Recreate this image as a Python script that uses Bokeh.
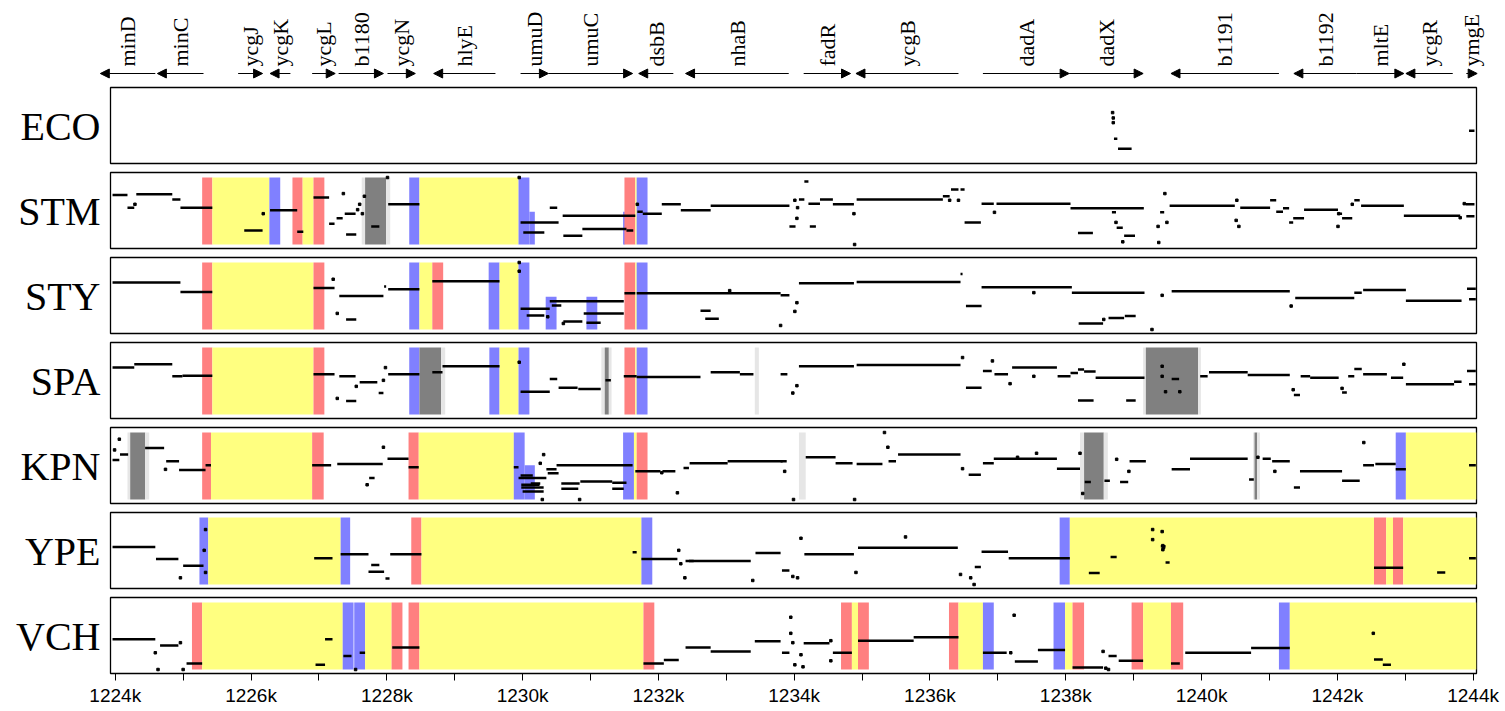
import math
from bokeh.plotting import figure
from bokeh.layouts import column
from bokeh.models import (Range1d, FixedTicker, LinearAxis, Arrow, NormalHead, LabelSet,
                          ColumnDataSource, PrintfTickFormatter)
from bokeh.core.properties import value
from bokeh.embed import file_html
from bokeh.resources import INLINE

# ---------------- data ----------------
gene_names = ["minD", "minC", "ycgJ", "ycgK", "ycgL", "b1180", "ycgN", "hlyE", "umuD", "umuC",
              "dsbB", "nhaB", "fadR", "ycgB", "dadA", "dadX", "b1191", "b1192", "mltE", "ycgR", "ymgE"]
gene_start = [1223.78, 1224.62, 1225.81, 1226.28, 1226.90, 1227.29, 1228.01, 1228.69, 1229.97, 1230.38,
              1231.71, 1232.40, 1234.14, 1234.91, 1236.78, 1238.05, 1239.55, 1241.36, 1242.28, 1243.01, 1243.90]
gene_end = [1224.59, 1225.30, 1226.17, 1226.58, 1227.24, 1227.95, 1228.42, 1229.60, 1230.38, 1231.62,
            1232.22, 1233.92, 1234.83, 1236.42, 1238.05, 1239.14, 1241.14, 1242.28, 1242.98, 1243.70, 1244.06]
gene_strand = ["-", "-", "+", "-", "+", "+", "+", "-", "+", "+",
               "-", "-", "+", "-", "+", "+", "-", "-", "+", "-", "+"]

species = ["ECO", "STM", "STY", "SPA", "KPN", "YPE", "VCH"]
x_ticks = [1224, 1226, 1228, 1230, 1232, 1234, 1236, 1238, 1240, 1242, 1244]
x_minor = [1225, 1227, 1229, 1231, 1233, 1235, 1237, 1239, 1241, 1243]

# bands: (start kb, end kb, kind[, low %, high %])
eco_bands = []
eco_segs = [(1238.71, 1238.76, 31), (1238.77, 1238.97, 16), (1243.94, 1244.02, 43)]
eco_dots = [(1238.69, 70), (1238.70, 62), (1238.70, 55)]

stm_bands = [(1225.28, 1225.43, "R"), (1225.43, 1226.27, "Y"), (1226.27, 1226.43, "B"),
             (1226.61, 1226.76, "R"), (1226.76, 1226.92, "Y"), (1226.92, 1227.08, "R"),
             (1227.63, 1227.68, "L"), (1227.68, 1227.99, "G"), (1227.99, 1228.05, "L"),
             (1228.33, 1228.48, "B"), (1228.48, 1229.94, "Y"), (1229.94, 1230.10, "B"),
             (1230.10, 1230.18, "B", 0, 49), (1231.48, 1231.51, "B", 0, 49),
             (1231.50, 1231.66, "R"), (1231.66, 1231.68, "Y"), (1231.68, 1231.84, "B")]
stm_segs = [(1223.96, 1224.18, 74), (1224.18, 1224.28, 55), (1224.31, 1224.84, 75), (1224.84, 1224.96, 67),
            (1224.96, 1225.43, 55), (1225.90, 1226.17, 21), (1226.28, 1226.68, 51), (1226.68, 1226.77, 19),
            (1226.92, 1227.15, 70), (1227.15, 1227.23, 31), (1227.26, 1227.35, 39), (1227.38, 1227.54, 46),
            (1227.40, 1227.55, 15), (1227.77, 1227.89, 27), (1228.02, 1228.48, 60), (1229.97, 1230.53, 33),
            (1230.01, 1230.32, 18), (1230.40, 1230.51, 55), (1230.59, 1231.66, 43), (1230.60, 1230.88, 13),
            (1230.88, 1231.53, 23), (1231.53, 1231.63, 21), (1231.69, 1231.77, 49), (1231.77, 1232.05, 46),
            (1232.05, 1232.33, 60), (1232.33, 1232.77, 51), (1232.77, 1233.93, 58), (1233.93, 1234.02, 27),
            (1234.07, 1234.15, 67), (1234.15, 1234.21, 94), (1234.21, 1234.38, 61), (1234.23, 1234.32, 27),
            (1234.38, 1234.57, 67), (1234.57, 1234.88, 60), (1234.92, 1236.19, 67), (1236.19, 1236.29, 72),
            (1236.31, 1236.42, 82), (1236.45, 1236.51, 82), (1236.51, 1236.75, 33), (1236.76, 1236.94, 61),
            (1236.98, 1238.07, 61), (1238.07, 1239.15, 54), (1238.18, 1238.40, 17), (1238.68, 1238.74, 48),
            (1238.75, 1238.84, 25), (1238.86, 1239.02, 13), (1239.39, 1239.45, 48), (1239.53, 1240.49, 58),
            (1240.57, 1241.01, 55), (1241.01, 1241.10, 66), (1241.10, 1241.20, 49), (1241.20, 1241.29, 54),
            (1241.29, 1241.35, 33), (1241.35, 1241.51, 39), (1241.51, 1242.01, 52), (1242.01, 1242.07, 46),
            (1242.07, 1242.22, 39), (1242.25, 1242.33, 66), (1242.35, 1242.98, 58), (1242.98, 1243.81, 43),
            (1243.89, 1244.02, 60), (1243.90, 1244.02, 42)]
stm_dots = [(1224.29, 60), (1226.18, 46), (1227.36, 76), (1227.60, 60), (1227.67, 72), (1227.64, 46),
            (1227.57, 52), (1228.01, 100), (1229.95, 100), (1231.69, 60), (1234.04, 39), (1234.05, 55),
            (1234.01, 66), (1234.88, 46), (1234.89, 0), (1236.29, 66), (1236.42, 66), (1236.95, 48),
            (1238.74, 33), (1238.84, 4), (1239.37, 3), (1239.46, 76), (1239.36, 27), (1239.49, 33),
            (1240.51, 36), (1240.55, 27), (1240.52, 66), (1242.02, 46), (1242.01, 27), (1242.22, 60),
            (1243.81, 40), (1243.87, 61)]

sty_bands = [(1225.28, 1225.43, "R"), (1225.43, 1226.92, "Y"), (1226.92, 1227.08, "R"),
             (1228.33, 1228.48, "B"), (1228.48, 1228.67, "Y"), (1228.67, 1228.83, "R"),
             (1229.50, 1229.66, "B"), (1229.66, 1229.94, "Y"), (1229.94, 1230.10, "B"),
             (1230.34, 1230.50, "B", 0, 49), (1230.94, 1231.10, "B", 0, 49),
             (1231.50, 1231.66, "R"), (1231.66, 1231.68, "Y"), (1231.68, 1231.84, "B")]
sty_segs = [(1223.96, 1224.96, 70), (1224.96, 1225.43, 56), (1226.92, 1227.23, 62), (1227.30, 1227.95, 50),
            (1227.40, 1227.55, 15), (1227.96, 1227.99, 64), (1228.02, 1228.48, 60), (1228.67, 1229.66, 72),
            (1229.97, 1230.40, 31), (1230.06, 1230.32, 21), (1230.40, 1231.49, 42), (1230.43, 1230.57, 36),
            (1230.60, 1230.88, 12), (1230.90, 1231.49, 24), (1230.94, 1231.15, 10), (1231.50, 1231.66, 54),
            (1231.68, 1233.80, 54), (1232.62, 1232.77, 28), (1232.69, 1232.89, 16), (1233.80, 1233.93, 51),
            (1234.07, 1234.88, 69), (1234.92, 1236.45, 71), (1236.53, 1236.76, 35), (1236.45, 1236.48, 83),
            (1236.76, 1238.09, 63), (1238.09, 1239.16, 55), (1238.19, 1238.55, 9), (1238.63, 1238.86, 17),
            (1238.87, 1239.03, 20), (1239.56, 1241.30, 57), (1241.38, 1242.25, 47), (1242.25, 1242.36, 55),
            (1242.38, 1243.01, 59), (1243.01, 1243.83, 43), (1243.91, 1244.04, 61), (1243.94, 1244.04, 45)]
sty_dots = [(1227.21, 75), (1227.27, 24), (1229.95, 100), (1229.95, 87), (1230.37, 19), (1230.60, 9),
            (1234.01, 27), (1234.04, 40), (1233.80, 6), (1237.53, 55), (1239.42, 51), (1241.32, 35),
            (1239.27, 0), (1238.56, 15), (1233.05, 58)]

spa_bands = [(1225.28, 1225.43, "R"), (1225.43, 1226.92, "Y"), (1226.92, 1227.08, "R"),
             (1228.33, 1228.48, "B"), (1228.48, 1228.80, "G"), (1228.80, 1228.86, "L"),
             (1229.51, 1229.66, "B"), (1229.66, 1229.94, "Y"), (1229.94, 1230.10, "B"),
             (1231.16, 1231.21, "L"), (1231.21, 1231.27, "G"), (1231.27, 1231.31, "L"),
             (1231.50, 1231.66, "R"), (1231.66, 1231.68, "Y"), (1231.68, 1231.84, "B"),
             (1233.42, 1233.48, "L"),
             (1239.14, 1239.18, "L"), (1239.18, 1239.95, "G"), (1239.95, 1239.99, "L")]
spa_segs = [(1223.96, 1224.28, 70), (1224.28, 1224.84, 75), (1224.84, 1224.99, 57), (1224.99, 1225.43, 58),
            (1226.92, 1227.23, 60), (1227.30, 1227.54, 57), (1227.40, 1227.55, 20), (1227.60, 1227.86, 48),
            (1227.88, 1227.95, 32), (1228.02, 1228.48, 60), (1228.67, 1228.82, 63), (1228.82, 1229.66, 72),
            (1229.97, 1230.40, 34), (1230.40, 1230.51, 53), (1230.53, 1230.81, 40), (1230.82, 1231.15, 38),
            (1231.22, 1231.30, 51), (1231.49, 1231.68, 57), (1231.68, 1232.62, 56), (1232.77, 1233.20, 63),
            (1233.20, 1233.40, 60), (1233.80, 1233.90, 60), (1234.07, 1234.88, 72), (1234.92, 1236.45, 74),
            (1236.53, 1236.76, 40), (1236.78, 1236.91, 65), (1236.95, 1237.15, 60), (1237.21, 1237.87, 70),
            (1237.88, 1238.07, 57), (1238.07, 1238.18, 62), (1238.18, 1238.27, 67), (1238.27, 1238.44, 64),
            (1238.44, 1239.16, 55), (1238.18, 1238.41, 21), (1238.89, 1239.03, 21), (1239.56, 1239.67, 53),
            (1239.98, 1240.09, 57), (1240.11, 1240.68, 63), (1240.68, 1241.30, 59), (1241.46, 1241.60, 57),
            (1241.60, 1242.02, 55), (1242.16, 1242.25, 57), (1242.25, 1242.36, 68), (1242.38, 1242.73, 60),
            (1242.79, 1242.97, 55), (1243.01, 1243.72, 45), (1243.72, 1243.83, 49), (1243.91, 1244.04, 65),
            (1243.94, 1244.04, 45), (1241.36, 1241.45, 29), (1242.07, 1242.14, 33)]
spa_dots = [(1227.98, 70), (1227.55, 42), (1227.27, 24), (1227.95, 51), (1229.95, 78), (1236.48, 85),
            (1236.92, 80), (1237.18, 46), (1237.53, 57), (1234.04, 43), (1233.98, 32), (1239.42, 72),
            (1239.42, 57), (1239.47, 34), (1239.68, 34), (1242.98, 75), (1241.35, 37), (1242.07, 39)]

kpn_bands = [(1224.18, 1224.22, "L"), (1224.22, 1224.44, "G"), (1224.44, 1224.50, "L"),
             (1225.28, 1225.41, "R"), (1225.41, 1226.90, "Y"), (1226.90, 1227.07, "R"),
             (1228.32, 1228.47, "R"), (1228.47, 1229.87, "Y"), (1229.87, 1230.03, "B"),
             (1230.03, 1230.18, "B", 0, 51),
             (1231.48, 1231.64, "B"), (1231.64, 1231.68, "Y"), (1231.68, 1231.84, "R"),
             (1234.07, 1234.17, "L"),
             (1238.21, 1238.27, "L"), (1238.27, 1238.56, "G"), (1238.56, 1238.62, "L"),
             (1240.76, 1240.78, "L"), (1240.78, 1240.82, "G"), (1240.82, 1240.86, "L"),
             (1242.86, 1243.01, "B"), (1243.01, 1244.05, "Y")]
kpn_segs = [(1223.96, 1224.06, 59), (1224.07, 1224.19, 67), (1224.44, 1224.72, 77), (1224.75, 1224.94, 57),
            (1224.94, 1225.33, 44), (1225.33, 1225.41, 51), (1226.90, 1227.18, 51), (1227.27, 1227.94, 53),
            (1228.01, 1228.32, 61), (1227.74, 1227.82, 32), (1228.32, 1228.47, 48), (1229.87, 1229.94, 48),
            (1229.94, 1230.35, 32), (1229.97, 1230.15, 36), (1229.98, 1230.25, 22), (1229.98, 1230.31, 18),
            (1230.00, 1230.31, 12), (1230.12, 1230.26, 24), (1230.35, 1230.50, 45), (1230.37, 1230.53, 39),
            (1230.50, 1231.62, 51), (1230.57, 1230.84, 24), (1230.57, 1230.82, 16), (1230.85, 1231.32, 27),
            (1231.32, 1231.53, 25), (1231.32, 1231.49, 16), (1231.66, 1232.03, 42), (1232.06, 1232.25, 42),
            (1232.37, 1232.45, 47), (1232.46, 1233.02, 54), (1233.02, 1233.83, 57), (1233.80, 1233.89, 57),
            (1234.17, 1234.61, 63), (1234.61, 1234.86, 54), (1234.92, 1235.30, 53), (1235.39, 1235.50, 57),
            (1235.53, 1236.45, 67), (1236.57, 1236.75, 37), (1236.78, 1236.94, 54), (1236.94, 1237.87, 61),
            (1237.87, 1238.21, 46), (1238.28, 1238.37, 26), (1238.57, 1238.65, 28), (1238.80, 1238.92, 26),
            (1238.94, 1239.18, 57), (1239.56, 1239.83, 45), (1239.83, 1240.68, 61), (1240.70, 1240.77, 30),
            (1240.90, 1241.02, 61), (1241.04, 1241.30, 57), (1241.45, 1242.07, 42), (1242.07, 1242.33, 28),
            (1242.38, 1242.54, 51), (1242.56, 1242.86, 53), (1242.86, 1243.01, 45), (1243.94, 1244.04, 51),
            (1241.36, 1241.45, 18)]
kpn_dots = [(1223.99, 74), (1224.06, 90), (1224.74, 45), (1227.95, 78), (1227.71, 22), (1230.31, 67),
            (1230.26, 54), (1230.84, 0), (1230.29, 0), (1232.28, 10), (1232.05, 40), (1233.86, 42),
            (1233.99, 0), (1234.89, 0), (1235.38, 78), (1235.33, 100), (1236.48, 46), (1237.29, 63),
            (1237.57, 69), (1238.21, 69), (1238.25, 9), (1238.75, 60), (1238.93, 42), (1240.83, 63),
            (1241.08, 42), (1242.39, 85)]

ype_bands = [(1225.24, 1225.37, "B"), (1225.37, 1227.32, "Y"), (1227.32, 1227.46, "B"),
             (1228.36, 1228.51, "R"), (1228.51, 1231.75, "Y"), (1231.75, 1231.91, "B"),
             (1237.91, 1238.06, "B"), (1238.06, 1242.54, "Y"), (1242.54, 1242.72, "R"),
             (1242.72, 1242.82, "Y"), (1242.82, 1242.97, "R"), (1242.97, 1244.05, "Y")]
ype_segs = [(1223.96, 1224.59, 56), (1224.60, 1224.93, 38), (1225.00, 1225.30, 28), (1226.93, 1227.20, 39),
            (1227.32, 1227.73, 45), (1227.77, 1227.89, 29), (1227.73, 1227.96, 19), (1227.98, 1228.04, 9),
            (1228.05, 1228.51, 45), (1231.62, 1231.68, 48), (1231.75, 1232.28, 38), (1232.45, 1232.52, 35),
            (1232.40, 1233.36, 35), (1233.43, 1233.80, 47), (1233.82, 1233.93, 21), (1234.15, 1234.88, 45),
            (1234.94, 1236.41, 55), (1236.76, 1237.15, 49), (1237.16, 1238.06, 39), (1236.66, 1236.75, 26),
            (1238.34, 1238.50, 17), (1238.66, 1238.75, 41), (1239.40, 1239.47, 57), (1239.47, 1239.53, 33),
            (1242.54, 1242.97, 25), (1243.47, 1243.59, 18), (1243.94, 1244.04, 39)]
ype_dots = [(1224.96, 10), (1225.33, 82), (1225.31, 51), (1225.33, 18), (1232.30, 51), (1232.33, 31),
            (1232.39, 10), (1233.39, 6), (1234.05, 10), (1233.98, 12), (1234.10, 69), (1234.91, 18),
            (1235.64, 71), (1236.45, 15), (1236.60, 10), (1236.65, 0), (1239.28, 82), (1239.28, 67),
            (1239.42, 79), (1239.43, 58), (1239.43, 52), (1239.44, 55)]

vch_bands = [(1225.13, 1225.28, "R"), (1225.28, 1227.35, "Y"), (1227.35, 1227.51, "B"),
             (1227.52, 1227.68, "B"), (1227.68, 1228.07, "Y"), (1228.07, 1228.23, "R"),
             (1228.32, 1228.48, "R"), (1228.48, 1231.78, "Y"), (1231.78, 1231.94, "R"),
             (1234.69, 1234.85, "R"), (1234.85, 1234.94, "Y"), (1234.94, 1235.10, "R"),
             (1236.28, 1236.42, "R"), (1236.42, 1236.78, "Y"), (1236.78, 1236.94, "B"),
             (1237.82, 1237.99, "B"), (1237.99, 1238.10, "Y"), (1238.10, 1238.27, "R"),
             (1238.97, 1239.14, "R"), (1239.14, 1239.55, "Y"), (1239.55, 1239.73, "R"),
             (1241.14, 1241.30, "B"), (1241.30, 1244.05, "Y")]
vch_segs = [(1223.96, 1224.59, 45), (1224.66, 1224.93, 36), (1225.05, 1225.28, 9), (1226.95, 1227.09, 7),
            (1227.09, 1227.20, 45), (1227.36, 1227.48, 20), (1227.60, 1227.68, 25), (1228.08, 1228.48, 33),
            (1231.78, 1232.08, 9), (1232.08, 1232.30, 14), (1232.40, 1232.77, 33), (1232.77, 1233.36, 27),
            (1233.42, 1233.80, 42), (1233.82, 1233.93, 25), (1234.14, 1234.52, 39), (1234.57, 1234.85, 25),
            (1234.94, 1235.76, 43), (1235.76, 1236.42, 48), (1236.78, 1237.13, 25), (1237.25, 1237.59, 12),
            (1237.59, 1237.99, 29), (1238.10, 1238.55, 3), (1238.63, 1238.75, 20), (1238.78, 1239.14, 13),
            (1239.55, 1239.68, 9), (1239.76, 1240.73, 25), (1240.73, 1241.30, 32), (1242.54, 1242.67, 15),
            (1242.67, 1242.79, 7)]
vch_dots = [(1224.59, 25), (1224.96, 40), (1224.63, 0), (1225.00, 0), (1227.54, 0), (1233.95, 78),
            (1233.95, 54), (1233.98, 40), (1234.10, 22), (1234.01, 7), (1234.13, 4), (1234.54, 43),
            (1234.54, 13), (1237.24, 81), (1237.19, 25), (1238.55, 27), (1238.59, 2), (1238.63, 0),
            (1242.53, 54)]

panel_data = {
    "ECO": (eco_bands, eco_segs, eco_dots),
    "STM": (stm_bands, stm_segs, stm_dots),
    "STY": (sty_bands, sty_segs, sty_dots),
    "SPA": (spa_bands, spa_segs, spa_dots),
    "KPN": (kpn_bands, kpn_segs, kpn_dots),
    "YPE": (ype_bands, ype_segs, ype_dots),
    "VCH": (vch_bands, vch_segs, vch_dots),
}

band_colors = {"Y": "#FFFF80", "R": "#FF8080", "B": "#8080FF", "G": "#808080", "L": "#E6E6E6"}

# ---------------- layout ----------------
XMIN, XMAX = 1223.93, 1244.05
W = 1505
LEFT, RIGHT = 110, 29
scale = (W - LEFT - RIGHT) / (XMAX - XMIN)
xr = Range1d(XMIN, XMAX)

SERIF = "Liberation Serif"
SANS = "Liberation Sans"


def blank(p):
    p.xgrid.visible = False
    p.ygrid.visible = False
    p.background_fill_color = "white"
    p.border_fill_color = "white"


# gene track: its own, un-aligned, full-width frame with the same kb->pixel mapping
gh = 82
g = figure(width=W, height=gh, x_range=Range1d(XMIN - LEFT / scale, XMAX + RIGHT / scale),
           y_range=Range1d(0, gh),
           output_backend="svg", toolbar_location=None,
           x_axis_location=None, y_axis_location=None,
           min_border_left=0, min_border_right=0, min_border_top=0, min_border_bottom=0)
try:
    g.frame_align = False
except Exception:
    g.x_range = xr
    g.min_border_left = LEFT
    g.min_border_right = RIGHT
blank(g)
g.outline_line_color = None
tail = [e if s_ == "-" else s for s, e, s_ in zip(gene_start, gene_end, gene_strand)]
head = [s if s_ == "-" else e for s, e, s_ in zip(gene_start, gene_end, gene_strand)]
mid = [(s + e) / 2 for s, e in zip(gene_start, gene_end)]
gene_src = ColumnDataSource(dict(xs=tail, xe=head, y=[9] * len(gene_names),
                                 mid=mid, ly=[16] * len(gene_names), name=gene_names))
g.add_layout(Arrow(end=NormalHead(size=9, fill_color="black", line_color="black", line_width=1),
                   x_start="xs", y_start="y", x_end="xe", y_end="y", source=gene_src,
                   line_color="black", line_width=1))
g.add_layout(LabelSet(x="mid", y="ly", text="name", source=gene_src, angle=math.pi / 2,
                      text_align="left", text_baseline="middle", text_font=value(SERIF),
                      text_font_size="22px", text_color="black"))

figs = [g]
ylo = -4 / 67 * 100
yhi = 100 + 5 / 67 * 100
for i, name in enumerate(species):
    last = (i == len(species) - 1)
    bottom = 38 if last else 4
    p = figure(width=W, height=5 + 76 + bottom, x_range=xr, y_range=Range1d(ylo, yhi),
               output_backend="svg", toolbar_location=None,
               x_axis_location=None, y_axis_location=None,
               min_border_left=LEFT, min_border_right=RIGHT, min_border_top=5,
               min_border_bottom=bottom)
    blank(p)
    p.outline_line_color = "black"
    p.outline_line_width = 1.3

    bands, segs, dots = panel_data[name]
    if bands:
        p.quad(left=[b[0] for b in bands], right=[b[1] for b in bands],
               bottom=[b[3] if len(b) > 3 else 0 for b in bands],
               top=[b[4] if len(b) > 3 else 100 for b in bands],
               fill_color=[band_colors[b[2]] for b in bands], line_color=None)
    if segs:
        p.segment(x0=[s[0] for s in segs], x1=[s[1] for s in segs],
                  y0=[s[2] for s in segs], y1=[s[2] for s in segs],
                  line_color="black", line_width=2.5)
    if dots:
        p.scatter(x=[d[0] for d in dots], y=[d[1] for d in dots], marker="square",
                  size=2.5, color="black")

    lab = LinearAxis(ticker=FixedTicker(ticks=[50]), major_label_overrides={50: name},
                     axis_line_color=None, major_tick_line_color=None, minor_tick_line_color=None,
                     major_tick_out=0, major_tick_in=0, major_label_standoff=10,
                     major_label_text_font=SERIF, major_label_text_font_size="40px",
                     major_label_text_color="black")
    p.add_layout(lab, "left")

    if last:
        xa = LinearAxis(ticker=FixedTicker(ticks=x_ticks, minor_ticks=x_minor),
                        formatter=PrintfTickFormatter(format="%dk"),
                        axis_line_color=None, major_tick_out=7, major_tick_in=0,
                        minor_tick_out=7, minor_tick_in=0,
                        major_tick_line_color="black", minor_tick_line_color="black",
                        major_label_standoff=4, major_label_text_font=SANS,
                        major_label_text_font_size="19px", major_label_text_color="black")
        p.add_layout(xa, "below")
    figs.append(p)

layout = column(*figs, spacing=0)
open("out.html", "w").write(file_html(layout, INLINE))
